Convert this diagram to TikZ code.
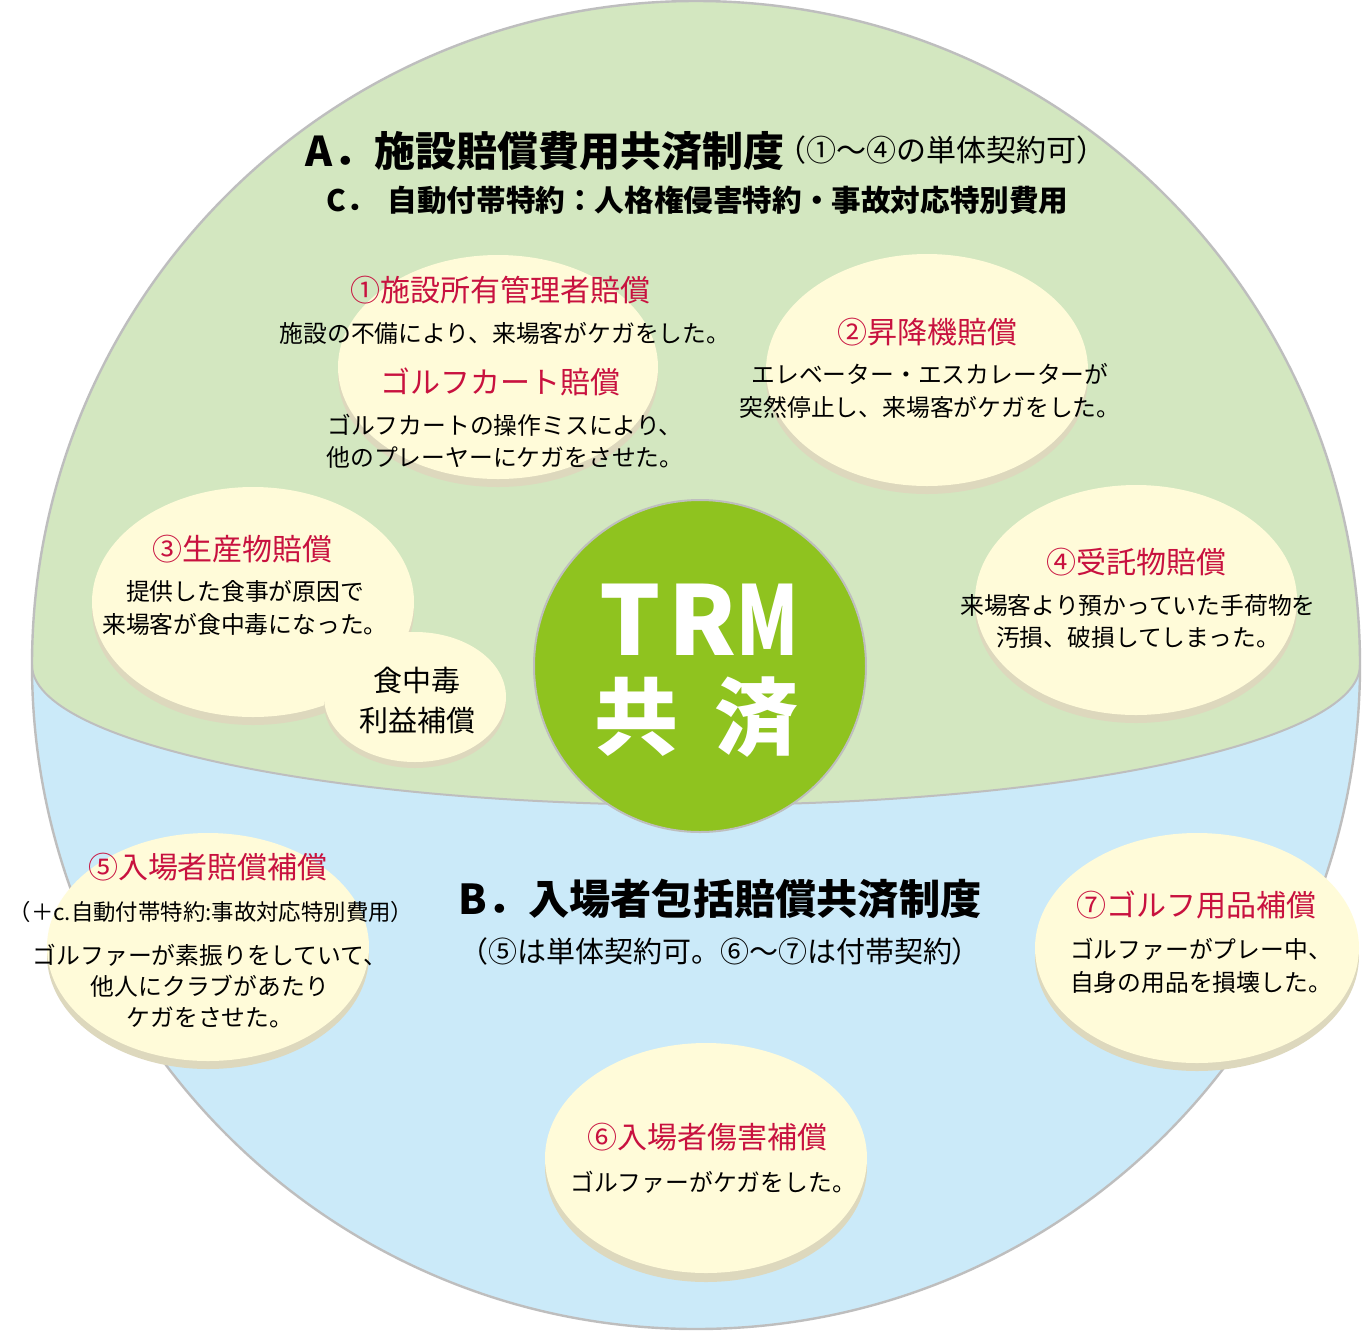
\documentclass[tikz,border=0pt]{standalone}
\usepackage{fontspec}
\setmainfont{Noto Sans CJK JP}
\definecolor{bigblue}{HTML}{CBEAF9}
\definecolor{grn}{HTML}{D3E7C0}
\definecolor{trmgreen}{HTML}{8FC31F}
\definecolor{yel}{HTML}{FFFBD9}
\definecolor{shd}{HTML}{DDD8BD}
\definecolor{edgegray}{HTML}{BEBEBE}
\definecolor{hred}{HTML}{C8113F}
\newcommand{\ydisc}[5]{%
  \fill[shd] (#1,#2+#5) ellipse[x radius=#3,y radius=#4];
  \fill[yel] (#1,#2) ellipse[x radius=#3,y radius=#4];}
\tikzset{
  bodytxt/.style={inner sep=0pt, align=center, font=\fontsize{11.9}{16.2}\selectfont},
  headtxt/.style={inner sep=0pt, text=hred, font=\fontsize{15}{18}\selectfont},
  trmtxt/.style={inner sep=0pt, text=white, font=\bfseries\fontsize{48}{50}\selectfont},
  kyotxt/.style={inner sep=0pt, text=white, font=\bfseries\fontsize{42}{44}\selectfont},
}
\begin{document}
\begin{tikzpicture}[x=0.5pt,y=-0.5pt]
\useasboundingbox (0,0) rectangle (1362,1330);
\fill[white] (0,0) rectangle (1362,1330);
% big circle and green zone
\coordinate (O) at (696,665);
\fill[bigblue] (O) circle[radius=664];
\fill[grn] (32,665) arc[start angle=180,end angle=360,radius=664]
  arc[start angle=0,end angle=180,x radius=664,y radius=140] -- cycle;
\draw[edgegray,line width=1pt] (1360,665) arc[start angle=0,end angle=180,x radius=664,y radius=140];
\draw[edgegray,line width=1.2pt] (O) circle[radius=664];
% discs
\ydisc{498}{367}{160}{112}{8}
\ydisc{927}{370}{161}{116}{8}
\ydisc{253}{602}{161}{115}{8}
\ydisc{1136}{600}{161}{115}{8}
\ydisc{415}{697}{91}{65}{6}
\ydisc{208}{947}{161}{114}{8}
\ydisc{706}{1158}{161}{115}{9}
\ydisc{1197}{948}{162}{115}{8}
% centre circle
\node[circle, fill=trmgreen, draw=edgegray, line width=1pt, minimum size=332pt*0.5, inner sep=0pt] (trm) at (700,666) {};
\node[trmtxt] (tT) at (630,620) {T};
\node[trmtxt] (tR) at (702,620) {R};
\node[trmtxt] (tM) at (768,620) {\scalebox{0.74}[1]{M}};
\node[kyotxt] (k1) at (636,717) {共};
\node[kyotxt] (k2) at (756,717) {済};
% titles
\node[inner sep=0pt, font=\bfseries\fontsize{20.5}{24}\selectfont] (titA) at (545,151) {A．施設賠償費用共済制度};
\node[inner sep=0pt, font=\fontsize{15}{18}\selectfont] (titAp) at (941,150) {（①～④の単体契約可）};
\node[inner sep=0pt, anchor=west, font=\bfseries\fontsize{14.8}{18}\selectfont] (titC) at (326,200) {C．\hspace{6pt}自動付帯特約：人格権侵害特約・事故対応特別費用};
\node[inner sep=0pt, font=\bfseries\fontsize{20.6}{24}\selectfont] (titB) at (720,899) {B．入場者包括賠償共済制度};
\node[inner sep=0pt, font=\fontsize{14.5}{18}\selectfont] (titBp) at (720,951) {（⑤は単体契約可。⑥～⑦は付帯契約）};
% disc 1
\node[headtxt] (h1) at (500,290) {①施設所有管理者賠償};
\node[bodytxt] (b1) at (505,333) {施設の不備により、来場客がケガをした。};
\node[headtxt] (h1b) at (500,382) {ゴルフカート賠償};
\node[bodytxt] (b1b) at (505,441.5) {ゴルフカートの操作ミスにより、\\他のプレーヤーにケガをさせた。};
% disc 2
\node[headtxt] (h2) at (927,332) {②昇降機賠償};
\node[bodytxt] (b2) at (930,391) {エレベーター・エスカレーターが\\突然停止し、来場客がケガをした。};
% disc 3
\node[headtxt] (h3) at (242,549) {③生産物賠償};
\node[bodytxt] (b3) at (245,608) {提供した食事が原因で\\来場客が食中毒になった。};
\node[inner sep=0pt, align=center, font=\fontsize{14.5}{20}\selectfont] (b3s) at (417,700) {食中毒\\利益補償};
% disc 4
\node[headtxt] (h4) at (1136,562) {④受託物賠償};
\node[bodytxt] (b4) at (1138,621.5) {来場客より預かっていた手荷物を\\汚損、破損してしまった。};
% disc 5
\node[headtxt] (h5) at (208,867) {⑤入場者賠償補償};
\node[inner sep=0pt, font=\fontsize{11.2}{14}\selectfont] (b5p) at (211,912) {（＋c.自動付帯特約:事故対応特別費用）};
\node[bodytxt, font=\fontsize{11.9}{15.5}\selectfont] (b5) at (210,986) {ゴルファーが素振りをしていて、\\他人にクラブがあたり\\ケガをさせた。};
% disc 6
\node[headtxt] (h6) at (707,1137) {⑥入場者傷害補償};
\node[bodytxt] (b6) at (713,1182) {ゴルファーがケガをした。};
% disc 7
\node[headtxt] (h7) at (1196,905) {⑦ゴルフ用品補償};
\node[bodytxt] (b7) at (1201,966) {ゴルファーがプレー中、\\自身の用品を損壊した。};
\end{tikzpicture}
\end{document}
